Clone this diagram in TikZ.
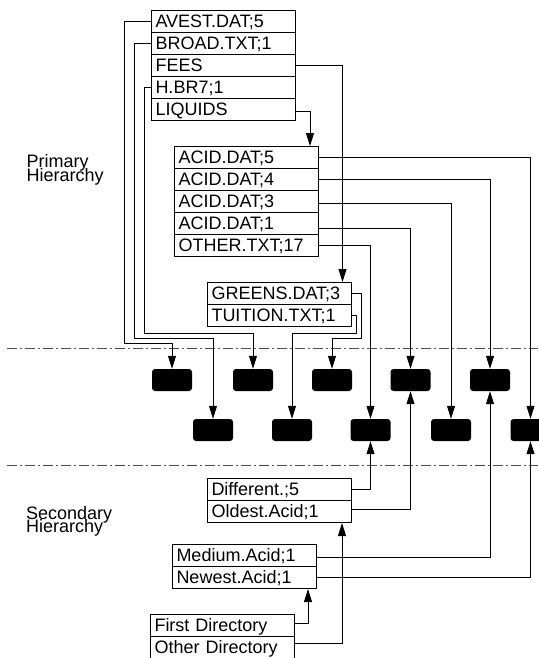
\documentclass[tikz,border=0pt]{standalone}
\usepackage{fontspec}
\setmainfont{Liberation Sans}
\usetikzlibrary{arrows.meta}
\begin{document}
\begin{tikzpicture}[x=1pt,y=-1pt,
  row/.style={draw, line width=1pt, text width=136pt, align=left, minimum height=22pt,
    text height=12.9pt, text depth=0pt, inner xsep=4pt, inner ysep=0pt, anchor=north west,
    font=\fontsize{18}{20}\selectfont},
  blk/.style={fill=black, rounded corners=3pt, minimum width=40pt, minimum height=22pt, inner sep=0pt},
  wire/.style={line width=0.8pt},
  arr/.style={wire, -{Triangle[length=13pt,width=8pt]}},
  sepline/.style={black!70, line width=0.8pt, dash pattern=on 10pt off 3pt on 2pt off 3pt},
  lbl/.style={font=\fontsize{18}{14}\selectfont, align=left, inner sep=0pt, anchor=north west}
]
\useasboundingbox (0,0) rectangle (538,658);

% separators
\draw[sepline] (7,348.3) -- (538,348.3);
\draw[sepline] (7,465) -- (538,465);

% labels
\node[lbl] (ph) at (26.5,154.5) {Primary\\[-3.8pt]Hierarchy};
\node[lbl] (sh) at (26,506.5) {Secondary\\[-4.6pt]Hierarchy};

% top directory
\node[row] (t1) at (151,10) {AVEST.DAT;5};
\node[row] (t2) at (151,32) {BROAD.TXT;1};
\node[row] (t3) at (151,54) {FEES};
\node[row] (t4) at (151,76) {H.BR7;1};
\node[row] (t5) at (151,98) {LIQUIDS};

% liquids
\node[row] (a1) at (174,146) {ACID.DAT;5};
\node[row] (a2) at (174,168) {ACID.DAT;4};
\node[row] (a3) at (174,190) {ACID.DAT;3};
\node[row] (a4) at (174,212) {ACID.DAT;1};
\node[row] (a5) at (174,234) {OTHER.TXT;17};

% fees
\node[row] (g1) at (207,282) {GREENS.DAT;3};
\node[row] (g2) at (207,304) {TUITION.TXT;1};

% secondary
\node[row] (d1) at (207,478) {Different.;5};
\node[row] (d2) at (207,500) {Oldest.Acid;1};
\node[row] (m1) at (172,544) {Medium.Acid;1};
\node[row] (m2) at (172,566) {Newest.Acid;1};
\node[row] (f1) at (150,614) {First Directory};
\node[row] (f2) at (150,636) {Other Directory};

% data blocks
\node[blk] (u1) at (172,380) {};
\node[blk] (u2) at (253,380) {};
\node[blk] (u3) at (332,380) {};
\node[blk] (u4) at (410.5,380) {};
\node[blk] (u5) at (490,380) {};
\node[blk] (l1) at (213,430) {};
\node[blk] (l2) at (292,430) {};
\node[blk] (l3) at (370.5,430) {};
\node[blk] (l4) at (451,430) {};
\node[blk] (l5) at (530.5,430) {};

% primary connectors
\draw[arr] (t1.west) -| (124,343) -| (u1.north);
\draw[arr] (t2.west) -| (134.5,338) -| (l1.north);
\draw[arr] (t4.west) -| (144.5,333) -| (u2.north);
\draw[arr] (t3.east) -| ([xshift=-9.5pt]g1.north east);
\draw[arr] ([yshift=-2pt]t5.east) -| ([xshift=-9pt]a1.north east);
\draw[arr] (g1.east) -| (361.5,338) -| (u3.north);
\draw[arr] (g2.east) -| (356.5,333) -| (l2.north);
\draw[arr] (a1.east) -| (l5.north);
\draw[arr] (a2.east) -| (u5.north);
\draw[arr] ([yshift=-2pt]a3.east) -| (l4.north);
\draw[arr] ([yshift=-5pt]a4.east) -| (u4.north);
\draw[arr] (a5.east) -| (l3.north);

% secondary connectors
\draw[arr] (d1.east) -| (l3.south);
\draw[arr] ([yshift=2pt]d2.east) -| (u4.south);
\draw[arr] ([yshift=-2pt]m1.east) -| (u5.south);
\draw[arr] (m2.east) -| (l5.south);
\draw[arr] ([yshift=2pt]f1.east) -| ([xshift=-9pt]m2.south east);
\draw[arr] ([yshift=4pt]f2.east) -| ([xshift=-10pt]d2.south east);
\end{tikzpicture}
\end{document}
